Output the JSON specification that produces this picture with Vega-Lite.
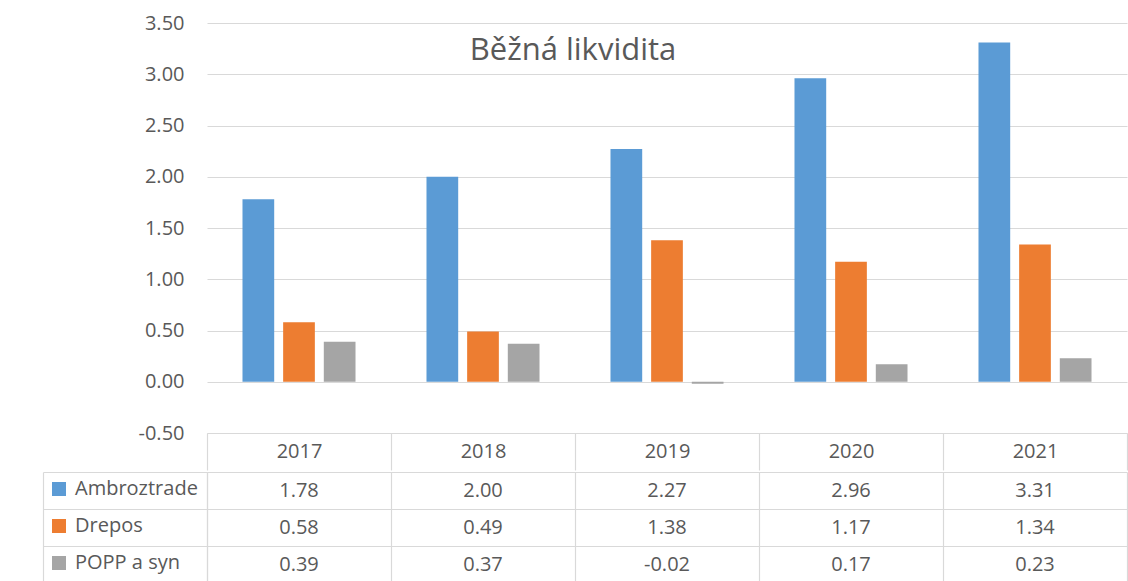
{
  "$schema": "https://vega.github.io/schema/vega-lite/v6.json",
  "padding": {"left": 42, "top": 13, "right": 0, "bottom": 0},
  "background": "white",
  "spacing": 0,
  "data": {"values": [
    {"year": "2017", "series": "Ambroztrade", "value": 1.78},
    {"year": "2017", "series": "Drepos", "value": 0.58},
    {"year": "2017", "series": "POPP a syn", "value": 0.39},
    {"year": "2018", "series": "Ambroztrade", "value": 2.00},
    {"year": "2018", "series": "Drepos", "value": 0.49},
    {"year": "2018", "series": "POPP a syn", "value": 0.37},
    {"year": "2019", "series": "Ambroztrade", "value": 2.27},
    {"year": "2019", "series": "Drepos", "value": 1.38},
    {"year": "2019", "series": "POPP a syn", "value": -0.02},
    {"year": "2020", "series": "Ambroztrade", "value": 2.96},
    {"year": "2020", "series": "Drepos", "value": 1.17},
    {"year": "2020", "series": "POPP a syn", "value": 0.17},
    {"year": "2021", "series": "Ambroztrade", "value": 3.31},
    {"year": "2021", "series": "Drepos", "value": 1.34},
    {"year": "2021", "series": "POPP a syn", "value": 0.23}
  ]},
  "config": {
    "font": "Open Sans",
    "view": {"stroke": null},
    "locale": {"number": {"decimal": ".", "thousands": ",", "grouping": [3], "currency": ["$", ""], "minus": "-"}},
    "axis": {"labelFont": "Open Sans", "labelFontSize": 20, "labelColor": "#595959", "gridColor": "#d9d9d9", "gridWidth": 1.2, "domainColor": "#d9d9d9", "domainWidth": 1.2, "tickColor": "#d9d9d9", "tickWidth": 1.2, "title": null}
  },
  "vconcat": [
    {
      "width": 920,
      "height": 410,
      "title": {"text": "Běžná likvidita", "fontSize": 31, "fontWeight": "normal", "color": "#595959", "font": "Open Sans", "anchor": "middle", "frame": "group", "offset": -54, "dx": -94},
      "mark": {"type": "bar"},
      "encoding": {
        "x": {"field": "year", "type": "nominal", "sort": ["2017", "2018", "2019", "2020", "2021"],
          "scale": {"paddingInner": 0, "paddingOuter": 0},
          "axis": {"orient": "bottom", "labelAngle": 0, "domain": true, "ticks": true, "tickBand": "extent", "tickSize": 37, "labelBaseline": "middle", "labelPadding": -18.6, "grid": false}},
        "xOffset": {"field": "series", "type": "nominal",
          "scale": {"domain": ["Ambroztrade", "Drepos", "POPP a syn"], "paddingInner": 0.22, "paddingOuter": 0.873}},
        "y": {"field": "value", "type": "quantitative",
          "scale": {"domain": [-0.5, 3.5], "nice": false},
          "axis": {"values": [-0.5, 0, 0.5, 1, 1.5, 2, 2.5, 3, 3.5], "format": ".2f", "grid": true, "domain": false, "ticks": false, "labelPadding": 23}},
        "color": {"field": "series", "type": "nominal",
          "scale": {"domain": ["Ambroztrade", "Drepos", "POPP a syn"], "range": ["#5B9BD5", "#ED7D31", "#A5A5A5"]},
          "legend": {"orient": "none", "legendX": -158, "legendY": 456, "title": null, "direction": "vertical", "symbolType": "square", "symbolSize": 196, "symbolStrokeWidth": 0, "labelFontSize": 20, "labelFont": "Open Sans", "labelColor": "#595959", "labelOffset": 6, "rowPadding": 17, "padding": 0}}
      }
    },
    {
      "width": 920,
      "height": 111,
      "layer": [
        {
          "mark": {"type": "rect", "opacity": 0},
          "encoding": {
            "x": {"field": "year", "type": "nominal", "sort": ["2017", "2018", "2019", "2020", "2021"],
              "scale": {"paddingInner": 0, "paddingOuter": 0},
              "axis": {"orient": "bottom", "grid": true, "tickBand": "extent", "labels": false, "ticks": false, "domain": false}},
            "y": {"field": "series", "type": "nominal", "sort": ["Ambroztrade", "Drepos", "POPP a syn"],
              "scale": {"paddingInner": 0, "paddingOuter": 0},
              "axis": {"orient": "left", "grid": true, "tickBand": "extent", "ticks": true, "tickSize": 164, "labels": false, "domain": true}}
          }
        },
        {
          "mark": {"type": "text", "fontSize": 20, "color": "#595959", "font": "Open Sans", "baseline": "middle", "align": "center"},
          "encoding": {
            "x": {"field": "year", "type": "nominal", "sort": ["2017", "2018", "2019", "2020", "2021"]},
            "y": {"field": "series", "type": "nominal", "sort": ["Ambroztrade", "Drepos", "POPP a syn"],
              "axis": {"orient": "left", "offset": 164, "grid": false, "ticks": false, "labels": false, "domain": true}},
            "text": {"field": "value", "type": "quantitative", "format": ".2f"}
          }
        }
      ],
      "resolve": {"axis": {"y": "independent"}}
    }
  ]
}
